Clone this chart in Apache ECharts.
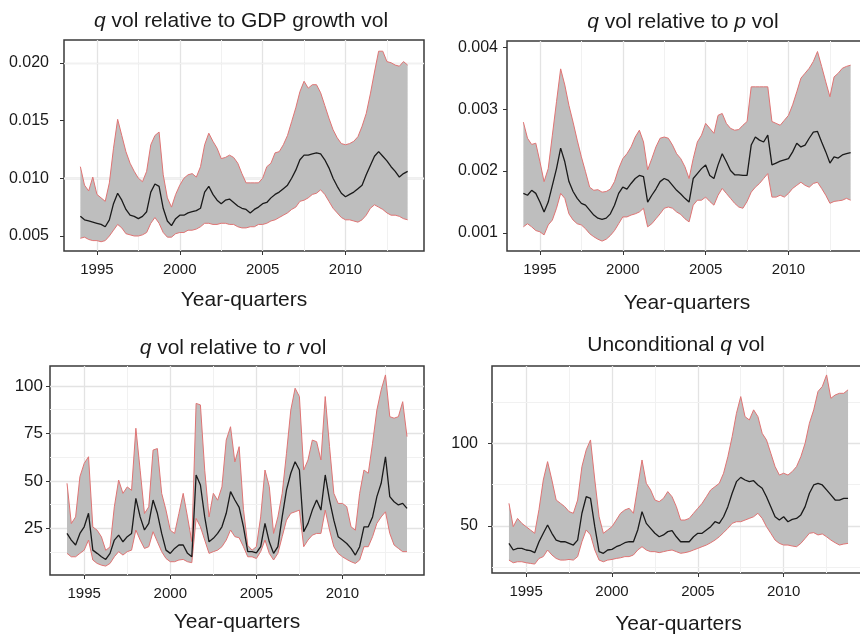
<!DOCTYPE html>
<html>
<head>
<meta charset="utf-8">
<script src="https://cdn.jsdelivr.net/npm/echarts@6/dist/echarts.min.js"></script>
<style>html,body{margin:0;padding:0;background:#fff}#chart{width:860px;height:634px}</style>
</head>
<body>
<div id="chart"></div>
<script>
// ---- time axis (year-quarters) ----
const quarters = [
 1994,1994.25,1994.5,1994.75, 1995,1995.25,1995.5,1995.75, 1996,1996.25,1996.5,1996.75,
 1997,1997.25,1997.5,1997.75, 1998,1998.25,1998.5,1998.75, 1999,1999.25,1999.5,1999.75,
 2000,2000.25,2000.5,2000.75, 2001,2001.25,2001.5,2001.75, 2002,2002.25,2002.5,2002.75,
 2003,2003.25,2003.5,2003.75, 2004,2004.25,2004.5,2004.75, 2005,2005.25,2005.5,2005.75,
 2006,2006.25,2006.5,2006.75, 2007,2007.25,2007.5,2007.75, 2008,2008.25,2008.5,2008.75,
 2009,2009.25,2009.5,2009.75, 2010,2010.25,2010.5,2010.75, 2011,2011.25,2011.5,2011.75,
 2012,2012.25,2012.5,2012.75, 2013,2013.25,2013.5,2013.75
];
const xTicks = [1995, 2000, 2005, 2010];
const xMinor = [1997.5, 2002.5, 2007.5, 2012.5];

// ---- panel 1: q vol relative to GDP growth vol ----
const gdpUpper = [
 0.0110,0.0094,0.0089,0.0101, 0.0086,0.0083,0.0080,0.0096, 0.0126,0.0151,0.0137,0.0123,
 0.0113,0.0106,0.0100,0.0097, 0.0106,0.0129,0.0137,0.0140, 0.0103,0.0083,0.0075,0.0086,
 0.0094,0.0100,0.0103,0.0104, 0.0101,0.0110,0.0129,0.0139, 0.0132,0.0126,0.0117,0.0118,
 0.0120,0.0118,0.0113,0.0104, 0.0096,0.0096,0.0096,0.0096, 0.0100,0.0110,0.0113,0.0122,
 0.0123,0.0129,0.0137,0.0149, 0.0161,0.0175,0.0184,0.0178, 0.0181,0.0181,0.0174,0.0163,
 0.0152,0.0142,0.0135,0.0130, 0.0129,0.0130,0.0132,0.0136, 0.0145,0.0156,0.0173,0.0192,
 0.0210,0.0210,0.0201,0.0200, 0.0198,0.0197,0.0201,0.0198
];
const gdpMedian = [
 0.0067,0.0064,0.0063,0.0062, 0.0061,0.0060,0.0058,0.0064, 0.0078,0.0087,0.0081,0.0073,
 0.0068,0.0067,0.0065,0.0067, 0.0071,0.0088,0.0095,0.0093, 0.0074,0.0063,0.0059,0.0065,
 0.0068,0.0068,0.0070,0.0071, 0.0072,0.0074,0.0088,0.0093, 0.0086,0.0081,0.0078,0.0081,
 0.0082,0.0079,0.0076,0.0074, 0.0073,0.0070,0.0073,0.0075, 0.0078,0.0079,0.0083,0.0086,
 0.0088,0.0091,0.0094,0.0100, 0.0107,0.0116,0.0120,0.0120, 0.0121,0.0122,0.0121,0.0116,
 0.0109,0.0100,0.0093,0.0087, 0.0084,0.0086,0.0088,0.0091, 0.0094,0.0103,0.0111,0.0119,
 0.0123,0.0119,0.0115,0.0110, 0.0106,0.0101,0.0104,0.0106
];
const gdpLower = [
 0.0048,0.0049,0.0047,0.0046, 0.0046,0.0045,0.0046,0.0050, 0.0055,0.0060,0.0057,0.0052,
 0.0051,0.0050,0.0050,0.0051, 0.0053,0.0061,0.0066,0.0061, 0.0053,0.0049,0.0049,0.0052,
 0.0053,0.0053,0.0055,0.0055, 0.0056,0.0058,0.0061,0.0061, 0.0060,0.0060,0.0061,0.0061,
 0.0060,0.0060,0.0058,0.0057, 0.0057,0.0058,0.0058,0.0060, 0.0060,0.0061,0.0063,0.0064,
 0.0066,0.0068,0.0070,0.0073, 0.0075,0.0080,0.0081,0.0083, 0.0086,0.0087,0.0090,0.0086,
 0.0080,0.0074,0.0070,0.0066, 0.0064,0.0064,0.0063,0.0062, 0.0064,0.0068,0.0074,0.0077,
 0.0075,0.0073,0.0070,0.0068, 0.0068,0.0067,0.0065,0.0064
];
const gdpTicks = [0.005, 0.010, 0.015, 0.020];
const gdpMinor = [0.0075, 0.0125, 0.0175];

// ---- panel 2: q vol relative to p vol ----
const pUpper = [
 0.00279,0.00253,0.00243,0.00245, 0.00215,0.00183,0.00204,0.00258, 0.00312,0.00365,0.00339,0.00306,
 0.00279,0.00250,0.00223,0.00199, 0.00174,0.00169,0.00170,0.00166, 0.00167,0.00171,0.00183,0.00204,
 0.00220,0.00228,0.00239,0.00255, 0.00266,0.00247,0.00202,0.00220, 0.00239,0.00253,0.00255,0.00253,
 0.00242,0.00228,0.00220,0.00207, 0.00188,0.00220,0.00247,0.00258, 0.00277,0.00269,0.00261,0.00290,
 0.00293,0.00277,0.00269,0.00266, 0.00267,0.00274,0.00280,0.00336, 0.00336,0.00336,0.00336,0.00336,
 0.00280,0.00277,0.00274,0.00282, 0.00290,0.00307,0.00328,0.00350, 0.00358,0.00366,0.00377,0.00393,
 0.00369,0.00344,0.00320,0.00352, 0.00358,0.00366,0.00369,0.00371
];
const pMedian = [
 0.00164,0.00161,0.00169,0.00164, 0.00150,0.00134,0.00150,0.00177, 0.00204,0.00237,0.00215,0.00183,
 0.00167,0.00156,0.00148,0.00145, 0.00137,0.00129,0.00124,0.00122, 0.00124,0.00131,0.00145,0.00164,
 0.00174,0.00171,0.00180,0.00188, 0.00193,0.00191,0.00150,0.00161, 0.00171,0.00183,0.00188,0.00185,
 0.00177,0.00169,0.00163,0.00156, 0.00150,0.00188,0.00196,0.00204, 0.00210,0.00193,0.00188,0.00210,
 0.00228,0.00215,0.00201,0.00194, 0.00194,0.00193,0.00193,0.00242, 0.00255,0.00250,0.00247,0.00258,
 0.00210,0.00213,0.00216,0.00218, 0.00220,0.00231,0.00245,0.00239, 0.00242,0.00253,0.00263,0.00264,
 0.00247,0.00231,0.00213,0.00223, 0.00221,0.00226,0.00228,0.00230
];
const pLower = [
 0.00110,0.00115,0.00110,0.00104, 0.00102,0.00097,0.00113,0.00121, 0.00140,0.00164,0.00156,0.00131,
 0.00121,0.00115,0.00113,0.00107, 0.00099,0.00094,0.00090,0.00087, 0.00090,0.00096,0.00104,0.00115,
 0.00126,0.00126,0.00129,0.00131, 0.00134,0.00140,0.00110,0.00115, 0.00123,0.00131,0.00140,0.00142,
 0.00140,0.00134,0.00130,0.00123, 0.00118,0.00145,0.00153,0.00153, 0.00158,0.00151,0.00145,0.00161,
 0.00172,0.00164,0.00156,0.00148, 0.00142,0.00140,0.00151,0.00166, 0.00174,0.00180,0.00188,0.00196,
 0.00158,0.00158,0.00161,0.00158, 0.00164,0.00172,0.00177,0.00182, 0.00177,0.00174,0.00180,0.00182,
 0.00172,0.00161,0.00148,0.00151, 0.00152,0.00153,0.00156,0.00153
];
const pTicks = [0.001, 0.002, 0.003, 0.004];
const pMinor = [0.0015, 0.0025, 0.0035];

// ---- panel 3: q vol relative to r vol ----
const rUpper = [
 48.7,27.5,31,52.2, 59.2,62.7,25.7,24, 20.5,13.4,15.2,36.3,
 50.4,43.4,46.8,45, 77.7,55.6,32.8,36.3, 66.2,67,43.4,34.6,
 24,22.3,32.8,43.4, 31,18,90.8,90, 55.6,31,43.4,39.8,
 46.8,71.5,78.5,60, 68,35,16,13.5, 15.3,31,55.7,47,
 22.3,31,43.4,64.5, 87.3,98.8,94.4,55.7, 61,71.5,70.6,61,
 94.4,68,43.4,38.1, 38.1,36.4,25.8,24, 43.4,55.7,54,69.8,
 87.3,97.9,105.8,83.8, 83,83.8,91.7,73.3
];
const rMedian = [
 22.3,18.8,16.2,22.3, 25.8,32.9,13.5,11.8, 10,8.6,11.8,18.8,
 21.4,17.9,20.6,22.3, 40.8,31,24.1,27.6, 39.9,32.9,22.3,13.5,
 11.8,14.4,16.2,16.2, 11.8,10,53.1,47.8, 31,17.9,19.7,22.3,
 25.8,32.9,44.3,39.9, 36,25.8,12.7,12.7, 12.1,15.3,27.6,17.9,
 11.8,15.3,31,45.2, 54,60.1,55.7,23.2, 27.6,34.6,39.9,34.6,
 53.1,39.9,29.3,20.6, 18.8,17,14.4,10.9, 15.3,25.8,25.8,31,
 41.7,48.7,62.7,41.7, 39,37.3,38.1,35.5
];
const rLower = [
 11.8,10,10,11.8, 13.5,18.8,8.3,6.5, 5.6,5.1,6.5,10,
 12.7,10.9,12.7,13.5, 24.1,18.8,14.4,15.3, 23.2,17.9,12.7,9.1,
 7.4,7.4,8.3,8.6, 7.4,6.9,30.2,25.8, 18.8,11.8,12.7,13.5,
 15.3,18.8,24.1,20.6, 20,15.3,10,10, 9.1,12.7,18.8,11.8,
 8.3,11.8,20.6,29.3, 32.9,33.7,34.6,15.3, 18.8,21.4,22.3,22.3,
 34.6,24.1,15.3,11.8, 10,8.6,7.4,6.5, 8.3,15.3,15.3,20.6,
 27.6,31,33.7,22.3, 16.2,14.4,12.7,12.7
];
const rTicks = [25, 50, 75, 100];
const rMinor = [12.5, 37.5, 62.5, 87.5];

// ---- panel 4: Unconditional q vol ----
const uUpper = [
 63.7,49.6,54.6,51.6, 49.6,47.6,45.6,60, 77.8,88.9,77.8,65.7,
 63.7,61.7,58.7,57.7, 65.7,85.9,96,102, 77.8,55.6,45.6,47.6,
 49.6,53.6,57.7,59.7, 60.7,57.7,73.8,89.9, 75.8,71.8,65.7,64.7,
 66.7,70.8,67.7,61.7, 53.6,53.6,54.6,57.7, 60.7,63.7,67.7,71.8,
 73.8,75.8,81.9,91.9, 104,118.1,128.2,116.1, 114.1,120.2,116.1,106,
 102,94,85.9,80.8, 81.9,80.8,82.9,85.9, 91.9,100,112.1,120.2,
 131.3,134.3,141.3,127.2, 129.2,130.2,130.2,132.3
];
const uMedian = [
 39.5,35.5,36.5,36.5, 35.5,35.1,33.9,40.5, 45.6,50.6,45.6,41.5,
 40.5,40.5,39.5,38.5, 41.5,57.7,67.7,66.7, 49.6,34.5,33.5,35.5,
 35.9,37.5,38.5,39.9, 40.5,40.5,47.6,58.7, 51.6,48.6,45.6,43.5,
 44.6,46.6,47.2,43.5, 40.5,40.5,40.5,43.5, 45.6,45.6,47.6,49.6,
 52.6,51.6,55.6,61.7, 69.8,76.8,79.4,77.8, 76.8,77.4,74.8,72.8,
 67.7,61.7,55.6,53.6, 55.6,52.6,54,54.6, 56.7,61.7,69.8,74.8,
 75.8,74.8,71.8,68.8, 65.7,65.7,66.7,66.7
];
const uLower = [
 29.4,27.8,28.4,28.4, 27.8,27.4,27,30.4, 31.5,35.5,32.5,30.4,
 29.4,29.4,29.8,29.4, 31.5,40.5,47.6,44.6, 35.5,29.4,28.4,29.4,
 29.8,30.4,30.8,31.5, 31.5,32.5,35.5,37.5, 35.5,34.5,34.5,33.9,
 34.5,35.1,35.5,34.5, 33.5,33.9,34.5,35.5, 36.5,37.5,38.5,39.9,
 41.5,43.5,46,48.6, 51.6,52.6,52.6,53.6, 54.6,55.6,57.7,54.6,
 49.6,45.6,41.5,39.5, 38.5,38.5,37.9,37.5, 39.5,42.5,45.6,46,
 44.6,45.2,43.5,41.5, 39.9,38.5,39.1,39.5
];
const uTicks = [50, 100];
const uMinor = [25, 75, 125];

// ---- styling / layout ----
const FONT = "'Liberation Sans', Arial, Helvetica, sans-serif";
const RED = '#e07474';
const GRAY = '#bebebe';
const TXT = '#1a1a1a';

const panels = [
  {title: '{i|q} vol relative to GDP growth vol', tx: 241, ty: 11,
   grid: {left: 64, top: 40, width: 360, height: 211}, yMin: 0.0037, yMax: 0.02197,
   upper: gdpUpper, median: gdpMedian, lower: gdpLower, ticks: gdpTicks, minor: gdpMinor, dec: 3, lm: 15, yfs: 16, ng: 39},
  {title: '{i|q} vol relative to {i|p} vol', tx: 683, ty: 12,
   grid: {left: 507, top: 41, width: 360, height: 210}, yMin: 0.00071, yMax: 0.0041,
   upper: pUpper, median: pMedian, lower: pLower, ticks: pTicks, minor: pMinor, dec: 3, lm: 9, yfs: 16, ng: 42},
  {title: '{i|q} vol relative to {i|r} vol', tx: 233, ty: 338,
   grid: {left: 50, top: 366, width: 374, height: 209}, yMin: 0.4, yMax: 110.5,
   upper: rUpper, median: rMedian, lower: rLower, ticks: rTicks, minor: rMinor, dec: 0, lm: 7, yfs: 17, ng: 37},
  {title: 'Unconditional {i|q} vol', tx: 676, ty: 335,
   grid: {left: 492, top: 366, width: 373, height: 207}, yMin: 21.6, yMax: 146.7,
   upper: uUpper, median: uMedian, lower: uLower, ticks: uTicks, minor: uMinor, dec: 0, lm: 14, yfs: 16, ng: 41}
];

const X_MIN = 1993.0125, X_MAX = 2014.7375;

const option = {
  animation: false,
  backgroundColor: '#ffffff',
  textStyle: {fontFamily: FONT},
  title: [], grid: [], xAxis: [], yAxis: [], series: []
};

panels.forEach((p, gi) => {
  option.title.push({
    text: p.title, left: p.tx, top: p.ty, textAlign: 'center', padding: 0,
    textStyle: {fontSize: 21, fontWeight: 'normal', color: TXT, fontFamily: FONT,
      rich: {i: {fontStyle: 'italic', fontSize: 21, color: TXT, fontFamily: FONT}}}
  });
  option.grid.push(Object.assign({show: true, borderColor: '#3a3a3a', borderWidth: 1.5,
    backgroundColor: '#ffffff', containLabel: false, outerBoundsMode: 'none'}, p.grid));
  option.xAxis.push({
    type: 'value', gridIndex: gi, min: X_MIN, max: X_MAX,
    name: 'Year-quarters', nameLocation: 'middle', nameGap: p.ng,
    nameTextStyle: {fontSize: 21, color: TXT, fontFamily: FONT},
    axisLine: {show: false},
    axisTick: {show: true, length: 4, customValues: xTicks, lineStyle: {color: '#333', width: 1}},
    axisLabel: {show: true, customValues: xTicks, margin: 11, fontSize: 15, color: TXT, fontFamily: FONT,
      formatter: v => String(Math.round(v))},
    splitLine: {show: false}, minorSplitLine: {show: false}
  });
  option.yAxis.push({
    type: 'value', gridIndex: gi, min: p.yMin, max: p.yMax,
    axisLine: {show: false},
    axisTick: {show: true, length: 4, customValues: p.ticks, lineStyle: {color: '#333', width: 1}},
    axisLabel: {show: true, customValues: p.ticks, margin: p.lm, fontSize: p.yfs, color: TXT, fontFamily: FONT,
      formatter: v => p.dec ? Number(v).toFixed(p.dec) : String(Math.round(v))},
    splitLine: {show: false}, minorSplitLine: {show: false}
  });

  // gridlines (major + minor), drawn underneath
  const gl = [];
  xTicks.forEach(v => gl.push({xAxis: v, lineStyle: {color: '#e3e3e3', width: 1.3, type: 'solid'}}));
  xMinor.forEach(v => gl.push({xAxis: v, lineStyle: {color: '#f1f1f1', width: 1, type: 'solid'}}));
  p.ticks.forEach(v => gl.push({yAxis: v, lineStyle: {color: '#e3e3e3', width: 1.3, type: 'solid'}}));
  p.minor.forEach(v => { if (v > p.yMin && v < p.yMax) gl.push({yAxis: v, lineStyle: {color: '#f1f1f1', width: 1, type: 'solid'}}); });
  option.series.push({
    type: 'line', xAxisIndex: gi, yAxisIndex: gi, data: [], silent: true, z: 1,
    markLine: {silent: true, symbol: ['none', 'none'], z: 1, animation: false,
      label: {show: false}, emphasis: {disabled: true}, data: gl}
  });

  // band (custom polygon between lower and upper)
  const rows = quarters.map((t, i) => [t, p.lower[i], p.upper[i]]);
  option.series.push({
    type: 'custom', xAxisIndex: gi, yAxisIndex: gi, z: 2, silent: true,
    data: rows, encode: {x: 0, y: [1, 2]},
    renderItem: (params, api) => {
      if (params.dataIndex !== 0) return null;
      const pts = [];
      rows.forEach(r => pts.push(api.coord([r[0], r[2]])));
      for (let i = rows.length - 1; i >= 0; i--) pts.push(api.coord([rows[i][0], rows[i][1]]));
      return {type: 'polygon', shape: {points: pts}, style: {fill: GRAY, stroke: null}};
    }
  });
  const mk = (arr, color, width, z) => ({
    type: 'line', xAxisIndex: gi, yAxisIndex: gi, z: z, silent: true,
    data: quarters.map((t, i) => [t, arr[i]]), symbol: 'none', showSymbol: false,
    lineStyle: {color: color, width: width}, emphasis: {disabled: true}
  });
  option.series.push(mk(p.upper, RED, 1, 3));
  option.series.push(mk(p.lower, RED, 1, 3));
  option.series.push(mk(p.median, '#1a1a1a', 1.3, 4));
});

const chart = echarts.init(document.getElementById('chart'), null, {renderer: 'canvas'});
chart.setOption(option);
</script>
</body>
</html>
